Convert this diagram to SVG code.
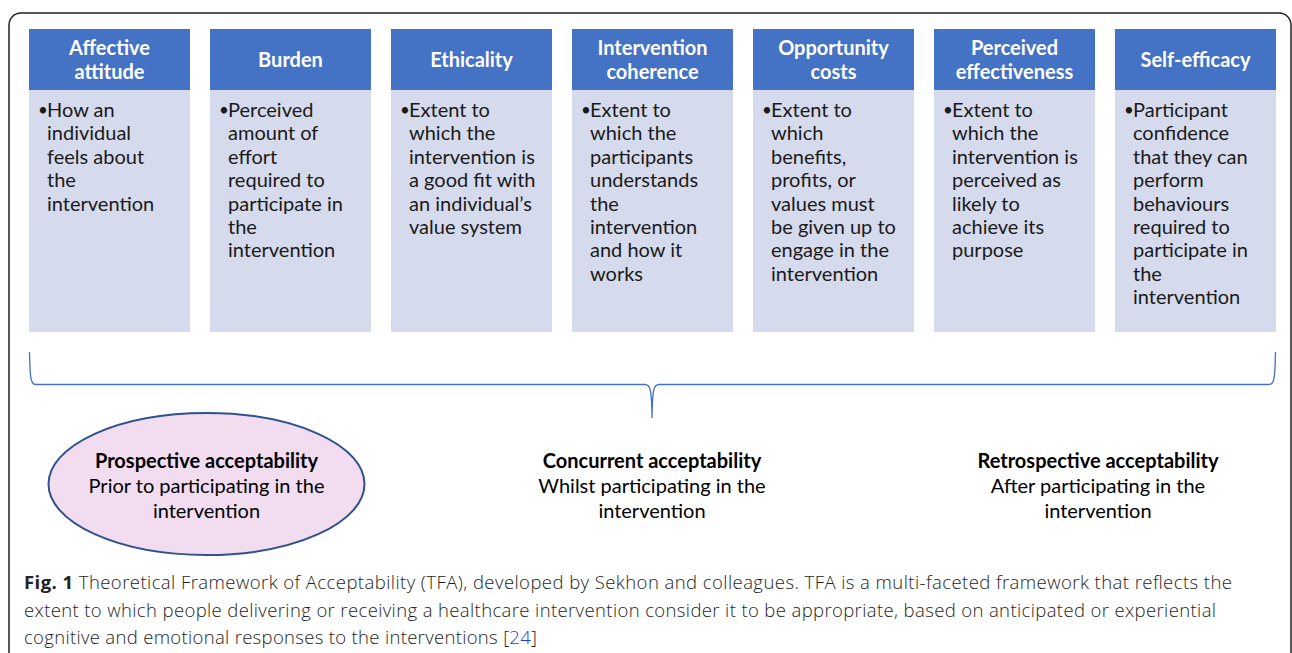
<svg xmlns="http://www.w3.org/2000/svg" width="1292" height="653" viewBox="0 0 1292 653">
  <style>
    .hdr { fill: #4472c4; }
    .body { fill: #d5dbec; }
    .ht { font-family: Lato, "Liberation Sans", sans-serif; font-weight: bold; font-size: 20px; fill: #ffffff; text-anchor: middle; }
    .bt { font-family: Lato, "Liberation Sans", sans-serif; font-size: 20px; fill: #1a1a1a; }
    .bul { font-family: Lato, "Liberation Sans", sans-serif; font-size: 17px; fill: #1a1a1a; }
    .ct { font-family: Lato, "Liberation Sans", sans-serif; font-size: 20px; fill: #000000; text-anchor: middle; }
    .ct .b { font-weight: bold; }
    .cap { font-family: "Open Sans", "Liberation Sans", sans-serif; font-size: 18.5px; font-weight: 300; fill: #1e1e1e; }
    .brace { fill: none; stroke: #4472c4; stroke-width: 1.3; }
  </style>

  <rect width="1292" height="653" fill="#ffffff"/>
  <!-- outer frame -->
  <rect x="9" y="13" width="1282" height="700" rx="12" ry="12" fill="none" stroke="#222222" stroke-width="1.5"/>

  <!-- construct columns -->
  <g id="affective-attitude">
    <rect class="hdr" x="29" y="29" width="161" height="61"/>
    <rect class="body" x="29" y="90" width="161" height="242"/>
    <text class="ht"><tspan x="109.5" y="55">Affective</tspan><tspan x="109.5" y="79">attitude</tspan></text>
    <text class="bul" x="38" y="116">•</text>
    <text class="bt"><tspan x="47" y="117">How an</tspan><tspan x="47" y="140.4">individual</tspan><tspan x="47" y="163.8">feels about</tspan><tspan x="47" y="187.2">the</tspan><tspan x="47" y="210.6">intervention</tspan></text>
  </g>
  <g id="burden">
    <rect class="hdr" x="210" y="29" width="161" height="61"/>
    <rect class="body" x="210" y="90" width="161" height="242"/>
    <text class="ht" x="290.5" y="67">Burden</text>
    <text class="bul" x="219" y="116">•</text>
    <text class="bt"><tspan x="228" y="117">Perceived</tspan><tspan x="228" y="140.4">amount of</tspan><tspan x="228" y="163.8">effort</tspan><tspan x="228" y="187.2">required to</tspan><tspan x="228" y="210.6">participate in</tspan><tspan x="228" y="234">the</tspan><tspan x="228" y="257.4">intervention</tspan></text>
  </g>
  <g id="ethicality">
    <rect class="hdr" x="391" y="29" width="161" height="61"/>
    <rect class="body" x="391" y="90" width="161" height="242"/>
    <text class="ht" x="471.5" y="67">Ethicality</text>
    <text class="bul" x="400" y="116">•</text>
    <text class="bt"><tspan x="409" y="117">Extent to</tspan><tspan x="409" y="140.4">which the</tspan><tspan x="409" y="163.8">intervention is</tspan><tspan x="409" y="187.2">a good fit with</tspan><tspan x="409" y="210.6">an individual’s</tspan><tspan x="409" y="234">value system</tspan></text>
  </g>
  <g id="intervention-coherence">
    <rect class="hdr" x="572" y="29" width="161" height="61"/>
    <rect class="body" x="572" y="90" width="161" height="242"/>
    <text class="ht"><tspan x="652.5" y="55">Intervention</tspan><tspan x="652.5" y="79">coherence</tspan></text>
    <text class="bul" x="581" y="116">•</text>
    <text class="bt"><tspan x="590" y="117">Extent to</tspan><tspan x="590" y="140.4">which the</tspan><tspan x="590" y="163.8">participants</tspan><tspan x="590" y="187.2">understands</tspan><tspan x="590" y="210.6">the</tspan><tspan x="590" y="234">intervention</tspan><tspan x="590" y="257.4">and how it</tspan><tspan x="590" y="280.8">works</tspan></text>
  </g>
  <g id="opportunity-costs">
    <rect class="hdr" x="753" y="29" width="161" height="61"/>
    <rect class="body" x="753" y="90" width="161" height="242"/>
    <text class="ht"><tspan x="833.5" y="55">Opportunity</tspan><tspan x="833.5" y="79">costs</tspan></text>
    <text class="bul" x="762" y="116">•</text>
    <text class="bt"><tspan x="771" y="117">Extent to</tspan><tspan x="771" y="140.4">which</tspan><tspan x="771" y="163.8">benefits,</tspan><tspan x="771" y="187.2">profits, or</tspan><tspan x="771" y="210.6">values must</tspan><tspan x="771" y="234">be given up to</tspan><tspan x="771" y="257.4">engage in the</tspan><tspan x="771" y="280.8">intervention</tspan></text>
  </g>
  <g id="perceived-effectiveness">
    <rect class="hdr" x="934" y="29" width="161" height="61"/>
    <rect class="body" x="934" y="90" width="161" height="242"/>
    <text class="ht"><tspan x="1014.5" y="55">Perceived</tspan><tspan x="1014.5" y="79">effectiveness</tspan></text>
    <text class="bul" x="943" y="116">•</text>
    <text class="bt"><tspan x="952" y="117">Extent to</tspan><tspan x="952" y="140.4">which the</tspan><tspan x="952" y="163.8">intervention is</tspan><tspan x="952" y="187.2">perceived as</tspan><tspan x="952" y="210.6">likely to</tspan><tspan x="952" y="234">achieve its</tspan><tspan x="952" y="257.4">purpose</tspan></text>
  </g>
  <g id="self-efficacy">
    <rect class="hdr" x="1115" y="29" width="161" height="61"/>
    <rect class="body" x="1115" y="90" width="161" height="242"/>
    <text class="ht" x="1195.5" y="67">Self-efficacy</text>
    <text class="bul" x="1124" y="116">•</text>
    <text class="bt"><tspan x="1133" y="117">Participant</tspan><tspan x="1133" y="140.4">confidence</tspan><tspan x="1133" y="163.8">that they can</tspan><tspan x="1133" y="187.2">perform</tspan><tspan x="1133" y="210.6">behaviours</tspan><tspan x="1133" y="234">required to</tspan><tspan x="1133" y="257.4">participate in</tspan><tspan x="1133" y="280.8">the</tspan><tspan x="1133" y="304.2">intervention</tspan></text>
  </g>

  <!-- grouping brace -->
  <g id="connectors">
    <path class="brace" d="M29.5,352 C30,380 31,384.5 36,384.5 H645 C650,384.5 651.6,388 652,418 C652.4,388 654,384.5 659,384.5 H1269 C1274,384.5 1275,380 1275.5,352"/>
  </g>

  <!-- acceptability time points -->
  <g id="prospective">
    <ellipse cx="206.5" cy="484" rx="158" ry="71" fill="#f2dcef" stroke="#2f528f" stroke-width="2"/>
    <text class="ct"><tspan class="b" x="206.5" y="468">Prospective acceptability</tspan><tspan x="206.5" y="493">Prior to participating in the</tspan><tspan x="206.5" y="518">intervention</tspan></text>
  </g>
  <g id="concurrent">
    <text class="ct"><tspan class="b" x="652" y="468">Concurrent acceptability</tspan><tspan x="652" y="493">Whilst participating in the</tspan><tspan x="652" y="518">intervention</tspan></text>
  </g>
  <g id="retrospective">
    <text class="ct"><tspan class="b" x="1098" y="468">Retrospective acceptability</tspan><tspan x="1098" y="493">After participating in the</tspan><tspan x="1098" y="518">intervention</tspan></text>
  </g>

  <!-- figure caption -->
  <g id="caption">
    <text class="cap" x="24" y="589" textLength="1208" lengthAdjust="spacing"><tspan font-weight="bold" fill="#222222">Fig. 1</tspan> Theoretical Framework of Acceptability (TFA), developed by Sekhon and colleagues. TFA is a multi-faceted framework that reflects the</text>
    <text class="cap" x="24" y="617" textLength="1192" lengthAdjust="spacing">extent to which people delivering or receiving a healthcare intervention consider it to be appropriate, based on anticipated or experiential</text>
    <text class="cap" x="24" y="644" textLength="513" lengthAdjust="spacing">cognitive and emotional responses to the interventions [<tspan fill="#1a3bdb">24</tspan>]</text>
  </g>
</svg>
